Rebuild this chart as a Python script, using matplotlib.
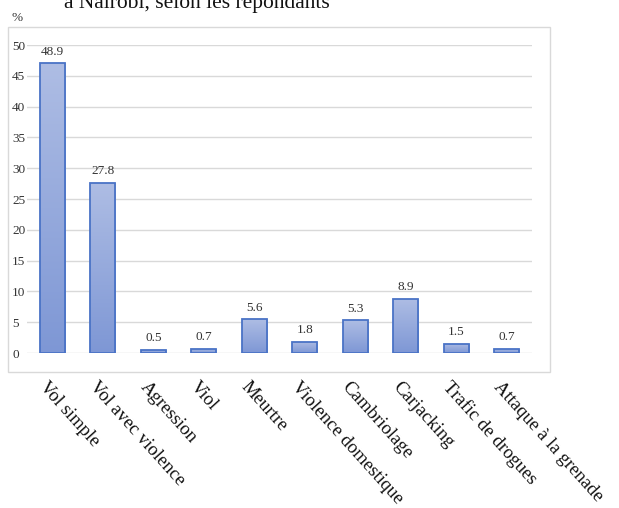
import matplotlib
matplotlib.use("Agg")
import matplotlib.pyplot as plt
import numpy as np
from matplotlib.patches import Rectangle
from matplotlib.colors import LinearSegmentedColormap
from matplotlib.transforms import ScaledTranslation

categories = ["Vol simple", "Vol avec violence", "Agression", "Viol", "Meurtre",
              "Violence domestique", "Cambriolage", "Carjacking",
              "Trafic de drogues", "Attaque à la grenade"]
bar_heights = [47.0, 27.6, 0.5, 0.7, 5.5, 1.8, 5.3, 8.8, 1.5, 0.7]
value_labels = ["48.9", "27.8", "0.5", "0.7", "5.6", "1.8", "5.3", "8.9", "1.5", "0.7"]
yticks = [0, 5, 10, 15, 20, 25, 30, 35, 40, 45, 50]

plt.rcParams['font.family'] = ['Liberation Serif', 'DejaVu Serif']

W, H = 619, 508
fig = plt.figure(figsize=(W / 100, H / 100), dpi=100)

# outer chart border
fig.patches.append(Rectangle((8 / W, 1 - 372 / H), (550 - 8) / W, (372 - 27) / H,
                             transform=fig.transFigure, fill=False,
                             edgecolor="#d9d9d9", linewidth=1.0))

ax = fig.add_axes([27 / W, 1 - 353 / H, (532 - 27) / W, (353 - 45) / H])
x = np.arange(len(categories))

cmap = LinearSegmentedColormap.from_list("g", ["#7e97d5", "#aebde4"])
grad = np.linspace(0, 1, 256).reshape(-1, 1)
bw = 0.5
bars = ax.bar(x, bar_heights, width=bw, color="none", edgecolor="#4a73c6",
              linewidth=1.3, zorder=3)
for b in bars:
    x0, y0 = b.get_x(), b.get_y()
    w, h = b.get_width(), b.get_height()
    im = ax.imshow(grad, extent=[x0, x0 + w, y0, y0 + h], origin="lower",
                   cmap=cmap, aspect="auto", zorder=2)
    im.set_clip_path(b)
ax.set_xlim(-0.5, len(categories) - 0.5)
ax.set_ylim(0, 50)

for xi, h, lab in zip(x, bar_heights, value_labels):
    ax.annotate(lab, (xi, h), xytext=(0, 4), textcoords="offset points",
                ha="center", va="bottom", fontsize=9.5, color="#333333")

ax.set_yticks(yticks)
ax.set_yticklabels([str(t) for t in yticks], fontsize=9.5, color="#333333")
for lab in ax.get_yticklabels():
    lab.set_ha("left")
ax.yaxis.grid(True, color="#d9d9d9", linewidth=1.0, zorder=0)
ax.set_axisbelow(True)
ax.tick_params(axis="y", length=0, pad=10.8)
ax.tick_params(axis="x", length=0, pad=6)
for s in ax.spines.values():
    s.set_visible(False)

ax.set_xticks(x)
ax.set_xticklabels(categories, rotation=-48, ha="left", va="top",
                   rotation_mode="anchor", fontsize=13.5, color="#111111")
off = ScaledTranslation(-4 / 100, -17 / 100, fig.dpi_scale_trans)
for lab in ax.get_xticklabels():
    lab.set_transform(lab.get_transform() + off)

fig.text(12 / W, 1 - 18 / H, "%", fontsize=9.5, color="#333333", va="center", ha="left")
fig.text(197 / W, 1 - 8 / H, "à Nairobi, selon les répondants", fontsize=15.5,
         ha="center", va="baseline", color="#111111")

fig.savefig("out.png", dpi=100)
